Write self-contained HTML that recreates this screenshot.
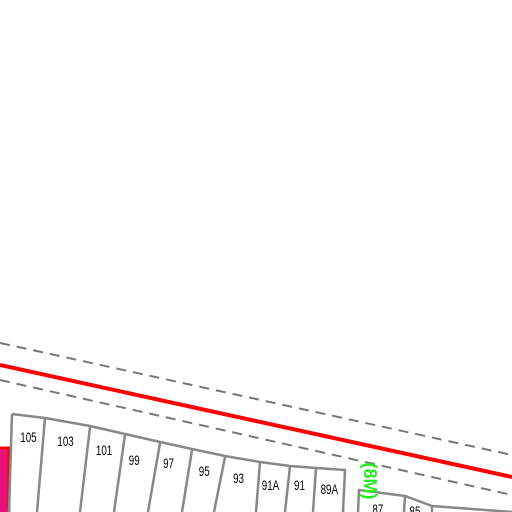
<!DOCTYPE html>
<html><head><meta charset="utf-8"><style>html,body{margin:0;padding:0;background:#fff}svg{display:block}</style></head>
<body>
<svg width="512" height="512" viewBox="0 0 512 512" font-family="Liberation Sans, sans-serif">
<line x1="0" y1="343" x2="512" y2="455" stroke="#777" stroke-width="2" stroke-dasharray="10,7"/>
<line x1="0" y1="380" x2="512" y2="495" stroke="#777" stroke-width="2" stroke-dasharray="10,7"/>
<line x1="0" y1="365" x2="512" y2="477" stroke="#f00" stroke-width="4"/>
<rect x="-3" y="448" width="12" height="70" fill="#e8107a" stroke="#f00" stroke-width="3"/>
<g fill="none" stroke="#888" stroke-width="2.5">
<polyline points="12,414 45,418 90,426 125,434 160,442 192,449 225,456 260,462 290,466 316,468 345,470 343,512"/>
<line x1="12" y1="414" x2="9" y2="512"/>
<line x1="45" y1="418" x2="37" y2="512"/>
<line x1="90" y1="427" x2="80" y2="512"/>
<line x1="125" y1="435" x2="114" y2="512"/>
<line x1="160" y1="443" x2="148" y2="512"/>
<line x1="192" y1="450" x2="182" y2="512"/>
<line x1="225" y1="457" x2="214" y2="512"/>
<line x1="260" y1="462" x2="256" y2="512"/>
<line x1="290" y1="466" x2="285" y2="512"/>
<line x1="316" y1="468" x2="313" y2="512"/>
<polyline points="358,512 359,490 405,496 432,506 512,512"/>
<line x1="405" y1="496" x2="404" y2="512"/>
<line x1="432" y1="506" x2="432" y2="512"/>
</g>
<g font-size="14" fill="#000" transform="scale(0.7,1)">
<text x="29" y="442">105</text>
<text x="82" y="446">103</text>
<text x="137" y="455">101</text>
<text x="184" y="465">99</text>
<text x="233" y="468">97</text>
<text x="284" y="476">95</text>
<text x="333" y="483">93</text>
<text x="374" y="490">91A</text>
<text x="420" y="490">91</text>
<text x="458" y="494">89A</text>
<text x="532" y="514">87</text>
<text x="585" y="516">85</text>
</g>
<text x="0" y="0" font-size="18" font-weight="bold" fill="#2e2" transform="translate(364,481) rotate(90)" text-anchor="middle">(8M)</text>
</svg>
</body></html>
